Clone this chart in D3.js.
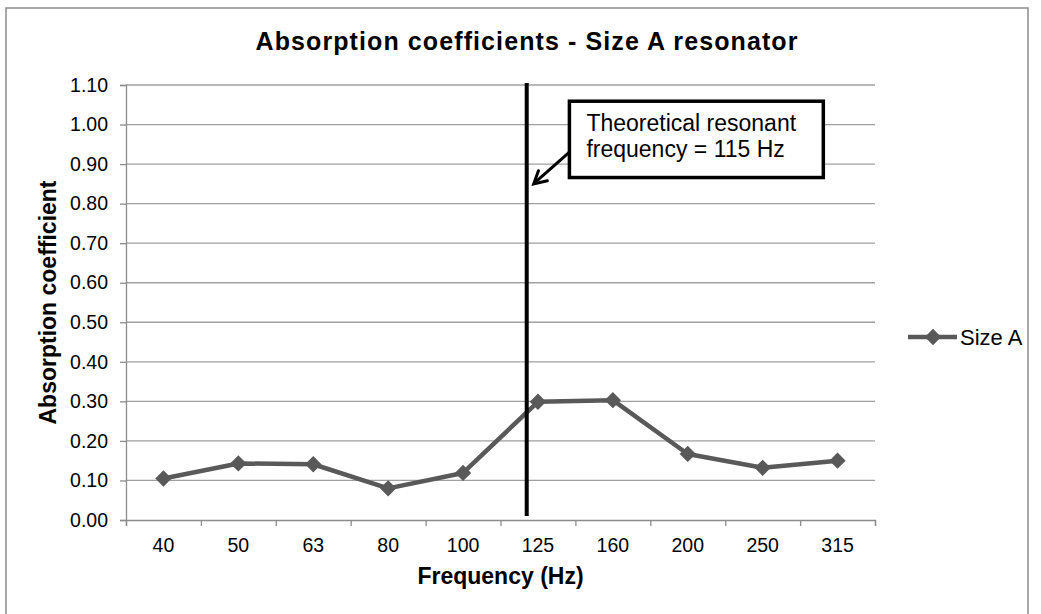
<!DOCTYPE html>
<html>
<head>
    <title></title>
    <script src="https://cdn.jsdelivr.net/npm/d3@7"></script>
    <style>
        body { margin: 0; background: #ffffff; }
        text { font-family: "Liberation Sans", Arial, sans-serif; fill: #000000; }
        .tick text { font-size: 19.5px; }
        .axis-title { font-size: 23px; font-weight: bold; }
        .chart-title { font-size: 25px; font-weight: bold; letter-spacing: 1.1px; }
        .note { font-size: 23px; }
        .legend-label { font-size: 22px; }
    </style>
</head>
<body>
<script type="text/javascript">

    var categories = ["40", "50", "63", "80", "100", "125", "160", "200", "250", "315"],
        sizeA = [0.105, 0.143, 0.141, 0.080, 0.119, 0.299, 0.303, 0.167, 0.132, 0.150],
        yTicks = [0, 0.1, 0.2, 0.3, 0.4, 0.5, 0.6, 0.7, 0.8, 0.9, 1.0, 1.1],
        seriesName = "Size A",
        // resonance marker sits between the "100" and "125" bands
        resonanceBand = 5.35,
        noteLines = ["Theoretical resonant", "frequency = 115 Hz"];

    var w = 1041,
        h = 614,
        plotLeft = 126,
        plotRight = 875,
        plotTop = 85,
        plotBottom = 520,
        grey = "#595959";

    var svg = d3.select("body")
            .append("svg")
            .attr("width", w)
            .attr("height", h);

    // chart border
    svg.append("rect")
            .attr("x", 6)
            .attr("y", 8)
            .attr("width", 1022)
            .attr("height", 640)
            .attr("fill", "none")
            .attr("stroke", "#8c8c8c")
            .attr("stroke-width", 1.5);

    var x = d3.scaleBand().domain(categories).range([plotLeft, plotRight]);
    var xPos = d3.scaleLinear().domain([0, categories.length]).range([plotLeft, plotRight]);
    var y = d3.scaleLinear().domain([0, 1.1]).range([plotBottom, plotTop]);

    // gridlines
    svg.append("g")
            .selectAll("line")
            .data(yTicks.slice(1))
            .enter()
            .append("line")
            .attr("x1", plotLeft)
            .attr("x2", plotRight)
            .attr("y1", function(d){ return y(d); })
            .attr("y2", function(d){ return y(d); })
            .attr("stroke", "#a0a0a0")
            .attr("stroke-width", 1.3);

    // y axis
    var yAxis = svg.append("g")
            .attr("transform", "translate(" + plotLeft + ",0)")
            .call(d3.axisLeft(y).tickValues(yTicks).tickFormat(d3.format(".2f")).tickSize(6).tickPadding(12));
    yAxis.selectAll("line, path").attr("stroke", "#8c8c8c").attr("stroke-width", 1.3);

    // x axis: tick marks on band edges, labels at band centres
    var xTickAxis = svg.append("g")
            .attr("transform", "translate(0," + plotBottom + ")")
            .call(d3.axisBottom(xPos).ticks(categories.length).tickFormat("").tickSize(6).tickSizeOuter(6));
    xTickAxis.selectAll("line, path").attr("stroke", "#8c8c8c").attr("stroke-width", 1.3);

    svg.append("g")
            .attr("transform", "translate(0," + plotBottom + ")")
            .call(d3.axisBottom(x).tickSize(0).tickPadding(18))
            .call(function(g){ g.select(".domain").remove(); });

    // axis titles
    svg.append("text")
            .attr("class", "axis-title")
            .attr("x", (plotLeft + plotRight) / 2)
            .attr("y", 584)
            .attr("text-anchor", "middle")
            .text("Frequency (Hz)");

    svg.append("text")
            .attr("class", "axis-title")
            .attr("transform", "translate(56," + (plotTop + plotBottom) / 2 + ") rotate(-90)")
            .attr("text-anchor", "middle")
            .text("Absorption coefficient");

    // title
    svg.append("text")
            .attr("class", "chart-title")
            .attr("x", 527)
            .attr("y", 50)
            .attr("text-anchor", "middle")
            .text("Absorption coefficients - Size A resonator");

    // series line
    var line = d3.line()
            .x(function(d, i){ return x(categories[i]) + x.bandwidth() / 2; })
            .y(function(d){ return y(d); });

    svg.append("path")
            .datum(sizeA)
            .attr("d", line)
            .attr("fill", "none")
            .attr("stroke", grey)
            .attr("stroke-width", 4.5)
            .attr("stroke-linejoin", "round");

    var diamond = d3.symbol().type(d3.symbolDiamond2).size(170);

    svg.selectAll("path.marker")
            .data(sizeA)
            .enter()
            .append("path")
            .attr("class", "marker")
            .attr("d", diamond)
            .attr("transform", function(d, i){
                return "translate(" + (x(categories[i]) + x.bandwidth() / 2) + "," + y(d) + ")";
            })
            .attr("fill", grey);

    // resonance line
    var rx = xPos(resonanceBand);
    svg.append("line")
            .attr("x1", rx)
            .attr("x2", rx)
            .attr("y1", y(1.105))
            .attr("y2", y(0.01))
            .attr("stroke", "#000")
            .attr("stroke-width", 4);

    // annotation box
    var bx0 = xPos(5.92), bx1 = xPos(9.31), by0 = y(1.059), by1 = y(0.866);
    svg.append("rect")
            .attr("x", bx0)
            .attr("y", by0)
            .attr("width", bx1 - bx0)
            .attr("height", by1 - by0)
            .attr("fill", "#fff")
            .attr("stroke", "#000")
            .attr("stroke-width", 3.5);

    svg.append("g")
            .selectAll("text")
            .data(noteLines)
            .enter()
            .append("text")
            .attr("class", "note")
            .attr("x", bx0 + 17)
            .attr("y", function(d, i){ return by0 + 30 + i * 26; })
            .text(function(d){ return d; });

    // arrow from box to line
    var ax0 = bx0, ay0 = y(0.93), ax1 = rx + 7, ay1 = y(0.85);
    svg.append("line")
            .attr("x1", ax0)
            .attr("y1", ay0)
            .attr("x2", ax1 + 2)
            .attr("y2", ay1 - 2)
            .attr("stroke", "#000")
            .attr("stroke-width", 3);
    var ang = Math.atan2(ay1 - ay0, ax1 - ax0);
    var hl = 14;
    svg.append("path")
            .attr("d", "M" + (ax1 - hl * Math.cos(ang - 0.5)) + "," + (ay1 - hl * Math.sin(ang - 0.5)) +
                    "L" + ax1 + "," + ay1 +
                    "L" + (ax1 - hl * Math.cos(ang + 0.5)) + "," + (ay1 - hl * Math.sin(ang + 0.5)))
            .attr("fill", "none")
            .attr("stroke", "#000")
            .attr("stroke-width", 3)
            .attr("stroke-linecap", "round");

    // legend
    var legend = svg.append("g").attr("transform", "translate(908,337)");
    legend.append("line")
            .attr("x1", 0)
            .attr("x2", 49)
            .attr("stroke", grey)
            .attr("stroke-width", 4.5);
    legend.append("path")
            .attr("d", diamond)
            .attr("transform", "translate(25,0)")
            .attr("fill", grey);
    legend.append("text")
            .attr("class", "legend-label")
            .attr("x", 52)
            .attr("y", 8)
            .text(seriesName);
</script>
</body>
</html>
